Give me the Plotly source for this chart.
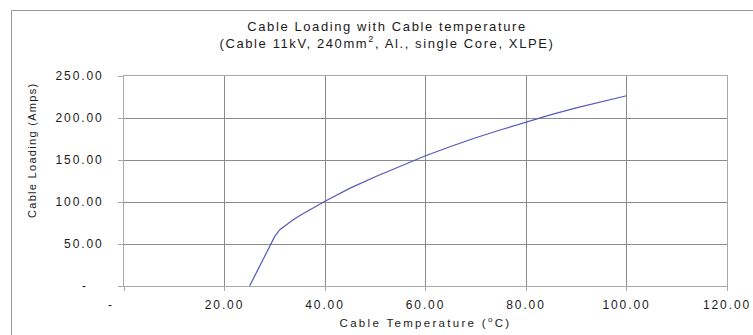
import plotly.graph_objects as go

# ---- data ----
temperature_c = [25, 26, 27, 28, 29, 30, 31, 32, 33, 34, 35, 40, 45, 50, 55, 60,
                 65, 70, 75, 80, 85, 90, 95, 100]
loading_amps = [0, 12, 24, 36, 48, 59, 67, 72, 76, 80, 84, 101, 116.5, 130, 142.5, 155,
                166, 176.5, 186, 195, 204, 212, 219.5, 226.5]

x_tick_vals = [0, 20, 40, 60, 80, 100, 120]
x_tick_text = ["-" + "\u00a0" * 5, "20.00", "40.00", "60.00", "80.00", "100.00", "120.00"]
y_tick_vals = [0, 50, 100, 150, 200, 250]
y_tick_text = ["-" + "\u00a0" * 3, "50.00", "100.00", "150.00", "200.00", "250.00"]

title_text = ("Cable Loading with Cable temperature<br>"
              "(Cable 11kV, 240mm<sup>2</sup>, Al., single Core, XLPE)")
x_title = "Cable Temperature (<sup>o</sup>C)"
y_title = "Cable Loading (Amps)"

# ---- layout geometry ----
W, H = 753, 335
L, R, T, B = 124, 26, 76, 49
pw, ph = W - L - R, H - T - B

def px_to_paper_x(px):
    return (px - L) / pw

def px_to_paper_y(py):
    return (H - B - py) / ph

FONT = "Liberation Sans, Arial, sans-serif"
TXT = "#1a1a1a"

fig = go.Figure()
fig.add_trace(go.Scatter(
    x=temperature_c, y=loading_amps, mode="lines",
    line=dict(color="#5858bc", width=1.2), showlegend=False,
))

fig.update_layout(
    width=W, height=H,
    margin=dict(l=L, r=R, t=T, b=B, pad=0, autoexpand=False),
    paper_bgcolor="white", plot_bgcolor="white",
    font=dict(family=FONT, color=TXT),
    title=dict(text=title_text, font=dict(size=13, family=FONT, color=TXT),
               x=387 / W, xref="container", xanchor="center",
               y=1 - 31 / H, yref="container", yanchor="top"),
    xaxis=dict(
        range=[0, 120], tickmode="array", tickvals=x_tick_vals, ticktext=x_tick_text,
        showgrid=True, gridcolor="#8c8c8c", gridwidth=1,
        showline=True, linecolor="#a8a8a8", linewidth=1, mirror=True,
        ticks="outside", ticklen=4, tickcolor="#a8a8a8",
        tickfont=dict(size=12, family=FONT, color=TXT),
        ticklabelstandoff=4, zeroline=False, automargin=False,
        title=dict(text=x_title, font=dict(size=11.5, family=FONT, color=TXT), standoff=7),
    ),
    yaxis=dict(
        range=[0, 250], tickmode="array", tickvals=y_tick_vals, ticktext=y_tick_text,
        showgrid=True, gridcolor="#8c8c8c", gridwidth=1,
        showline=True, linecolor="#a8a8a8", linewidth=1, mirror=True,
        ticks="outside", ticklen=5, tickcolor="#a8a8a8",
        tickfont=dict(size=12, family=FONT, color=TXT),
        ticklabelstandoff=12, zeroline=False, automargin=False,
    ),
    annotations=[dict(
        text=y_title, textangle=-90, showarrow=False,
        xref="paper", yref="paper", x=px_to_paper_x(32), y=px_to_paper_y(151),
        xanchor="center", yanchor="middle",
        font=dict(size=11, family=FONT, color=TXT),
    )],
    shapes=[dict(
        type="rect", xref="paper", yref="paper",
        x0=px_to_paper_x(11.5), x1=px_to_paper_x(W + 20),
        y0=px_to_paper_y(H + 20), y1=px_to_paper_y(10.5),
        line=dict(color="#999999", width=1), fillcolor="rgba(0,0,0,0)", layer="below",
    )],
)

css = ("html,body{margin:0;padding:0;overflow:hidden}"
       ".gtitle{letter-spacing:1.6px}"
       ".xtick text,.ytick text{letter-spacing:1.9px}"
       ".xtitle{letter-spacing:2.3px}"
       ".annotation-text{letter-spacing:1.3px}")
post_script = ("var s=document.createElement('style');s.textContent='" + css +
               "';document.head.appendChild(s);")

fig.write_html("out.html", post_script=post_script, config={"displayModeBar": False})
